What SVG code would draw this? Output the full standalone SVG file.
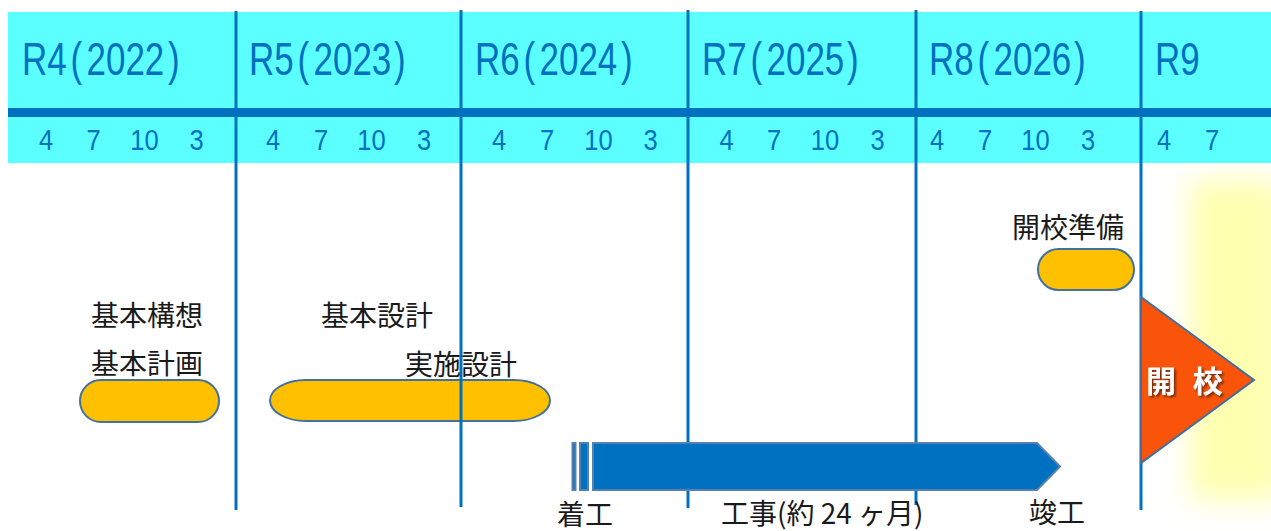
<svg xmlns="http://www.w3.org/2000/svg" width="1271" height="531" viewBox="0 0 1271 531">
  <defs>
    <style>
      .yr { font-family: "Liberation Sans", Arial, sans-serif; font-size: 46px; fill: #0070C0; }
      .mo { font-family: "Liberation Sans", Arial, sans-serif; font-size: 30px; fill: #0070C0; text-anchor: middle; }
      .jp { font-family: "Noto Sans CJK JP", "Noto Sans", sans-serif; font-size: 28px; fill: #1a1a1a; }
      .pill { fill: #FFC000; stroke: #41719C; stroke-width: 2; }
      .grid line { stroke: #0070C0; stroke-width: 3; }
      .bar { fill: #0070C0; stroke: #5580B0; stroke-width: 2; }
    </style>
    <filter id="glow" x="-50%" y="-20%" width="200%" height="140%">
      <feGaussianBlur stdDeviation="14"/>
    </filter>
    <filter id="shadow" x="-20%" y="-20%" width="140%" height="140%">
      <feDropShadow dx="2" dy="2" stdDeviation="1" flood-color="#6a2a10" flood-opacity="0.9"/>
    </filter>
  </defs>

  <rect width="1271" height="531" fill="#ffffff"/>

  <!-- glow -->
  <g id="glow-area">
    <rect x="1190" y="180" width="95" height="320" fill="#FFFFB0" filter="url(#glow)"/>
  </g>

  <!-- header -->
  <g id="header">
    <rect x="8" y="12" width="1263" height="151" fill="#5CFFFF"/>
    <rect x="8" y="108" width="1263" height="9" fill="#0070C0"/>
    <text class="yr" transform="translate(25,75) scale(0.76,1)"><tspan x="-4">R4</tspan><tspan x="60">(</tspan><tspan x="81">2022</tspan><tspan x="188">)</tspan></text>
    <text class="yr" transform="translate(252,75) scale(0.76,1)"><tspan x="-4">R5</tspan><tspan x="60">(</tspan><tspan x="81">2023</tspan><tspan x="187">)</tspan></text>
    <text class="yr" transform="translate(478,75) scale(0.76,1)"><tspan x="-4">R6</tspan><tspan x="60">(</tspan><tspan x="81">2024</tspan><tspan x="188">)</tspan></text>
    <text class="yr" transform="translate(705,75) scale(0.76,1)"><tspan x="-4">R7</tspan><tspan x="60">(</tspan><tspan x="81">2025</tspan><tspan x="187">)</tspan></text>
    <text class="yr" transform="translate(932,75) scale(0.76,1)"><tspan x="-4">R8</tspan><tspan x="60">(</tspan><tspan x="81">2026</tspan><tspan x="187">)</tspan></text>
    <text class="yr" transform="translate(1158,75) scale(0.76,1)"><tspan x="-4">R9</tspan></text>

    <text class="mo" transform="translate(46,150) scale(0.85,1)">4</text>
    <text class="mo" transform="translate(93.5,150) scale(0.85,1)">7</text>
    <text class="mo" transform="translate(144.5,150) scale(0.85,1)">10</text>
    <text class="mo" transform="translate(196.5,150) scale(0.85,1)">3</text>

    <text class="mo" transform="translate(273,150) scale(0.85,1)">4</text>
    <text class="mo" transform="translate(321,150) scale(0.85,1)">7</text>
    <text class="mo" transform="translate(371.5,150) scale(0.85,1)">10</text>
    <text class="mo" transform="translate(424,150) scale(0.85,1)">3</text>

    <text class="mo" transform="translate(499,150) scale(0.85,1)">4</text>
    <text class="mo" transform="translate(547,150) scale(0.85,1)">7</text>
    <text class="mo" transform="translate(598.5,150) scale(0.85,1)">10</text>
    <text class="mo" transform="translate(650.5,150) scale(0.85,1)">3</text>

    <text class="mo" transform="translate(726.5,150) scale(0.85,1)">4</text>
    <text class="mo" transform="translate(774,150) scale(0.85,1)">7</text>
    <text class="mo" transform="translate(825,150) scale(0.85,1)">10</text>
    <text class="mo" transform="translate(877.5,150) scale(0.85,1)">3</text>

    <text class="mo" transform="translate(937,150) scale(0.85,1)">4</text>
    <text class="mo" transform="translate(985,150) scale(0.85,1)">7</text>
    <text class="mo" transform="translate(1035.5,150) scale(0.85,1)">10</text>
    <text class="mo" transform="translate(1088,150) scale(0.85,1)">3</text>

    <text class="mo" transform="translate(1164,150) scale(0.85,1)">4</text>
    <text class="mo" transform="translate(1212,150) scale(0.85,1)">7</text>
  </g>

  <!-- phases -->
  <g id="kihon-keikaku">
    <text class="jp" x="91" y="326">基本構想</text>
    <text class="jp" x="91" y="374">基本計画</text>
    <rect class="pill" x="80" y="380" width="139" height="42" rx="21" ry="21"/>
  </g>
  <g id="sekkei">
    <rect class="pill" x="270" y="380" width="280" height="41" rx="36" ry="20.5"/>
    <text class="jp" x="321" y="326">基本設計</text>
    <text class="jp" x="405" y="375">実施設計</text>
  </g>
  <g id="kaiko-junbi">
    <text class="jp" x="1012" y="238">開校準備</text>
    <rect class="pill" x="1038" y="249" width="96" height="41" rx="20.5" ry="20.5"/>
  </g>

  <!-- grid / connectors -->
  <g id="connectors" class="grid">
    <line x1="236" y1="11" x2="236" y2="510"/>
    <line x1="461" y1="10" x2="461" y2="507"/>
    <line x1="688" y1="10" x2="688" y2="508"/>
    <line x1="916" y1="10" x2="916" y2="505"/>
    <line x1="1141" y1="11" x2="1141" y2="510"/>
  </g>

  <!-- construction -->
  <g id="koji">
    <rect class="bar" x="572.5" y="443" width="3" height="47"/>
    <rect class="bar" x="580" y="443" width="8" height="47"/>
    <path class="bar" d="M593,443 L1037,443 L1060,466.5 L1037,490 L593,490 Z"/>
    <text class="jp" x="557" y="525" font-size="27">着工</text>
    <text class="jp" x="721" y="524" font-size="27">工事(約 24 ヶ月)</text>
    <text class="jp" x="1029" y="523">竣工</text>
  </g>

  <!-- opening -->
  <g id="kaiko">
    <path d="M1141,297 L1254,380 L1141,463 Z" fill="#F9540A" stroke="#3E6FA0" stroke-width="2"/>
    <text x="1146" y="392" font-family="Noto Sans CJK JP, sans-serif" font-weight="bold" font-size="30" fill="#ffffff" letter-spacing="5" filter="url(#shadow)">開 校</text>
  </g>
</svg>
